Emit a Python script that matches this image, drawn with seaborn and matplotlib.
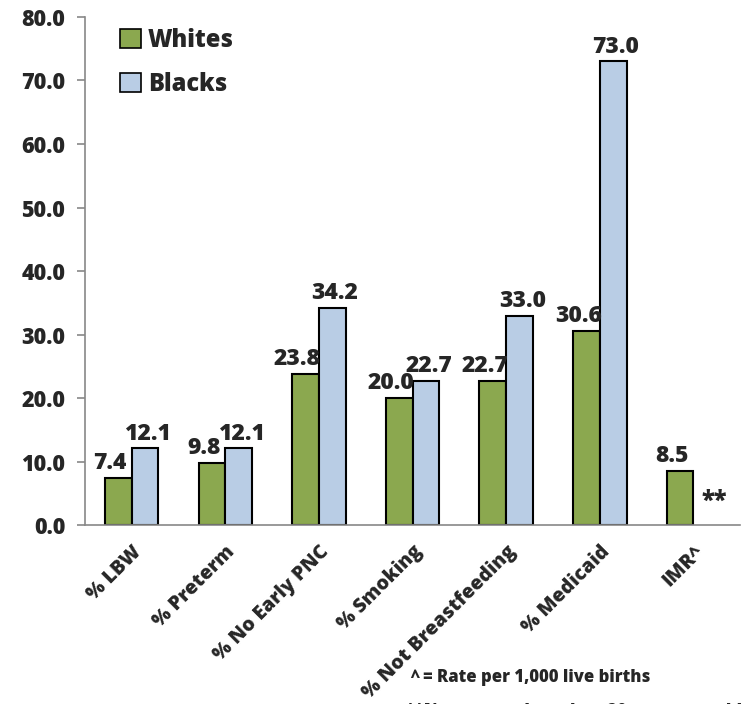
import pandas as pd
import numpy as np
import seaborn as sns
import matplotlib.pyplot as plt

categories = ['% LBW', '% Preterm', '% No Early PNC', '% Smoking',
              '% Not Breastfeeding', '% Medicaid', 'IMR^']
whites = [7.4, 9.8, 23.8, 20.0, 22.7, 30.6, 8.5]
blacks = [12.1, 12.1, 34.2, 22.7, 33.0, 73.0, np.nan]
groups = ['Whites', 'Blacks']
colors = ['#8BA84F', '#B9CDE5']

df = pd.DataFrame({'Category': categories * 2,
                   'Group': ['Whites'] * len(categories) + ['Blacks'] * len(categories),
                   'Value': whites + blacks})

sns.set_style('white')
plt.rcParams['font.family'] = ['Open Sans', 'DejaVu Sans']
plt.rcParams['font.weight'] = 'heavy'
W = 'heavy'

fig = plt.figure(figsize=(7.44, 7.04), dpi=100)
ax = fig.add_axes([0.114, 0.254, 0.881, 0.722])

sns.barplot(data=df, x='Category', y='Value', hue='Group', hue_order=groups,
            palette=colors, width=0.57, edgecolor='black', linewidth=1.5,
            saturation=1, ax=ax)

# value labels, whites nudged left a little as in the original
for cont, dx in zip(ax.containers, [-6, 2]):
    for bar in cont:
        h = bar.get_height()
        if np.isnan(h):
            continue
        ax.annotate(f'{h:.1f}', xy=(bar.get_x() + bar.get_width() / 2, h),
                    xytext=(dx, 2), textcoords='offset points', ha='center',
                    va='bottom', fontsize=16.5, fontweight=W)

# no rate for Blacks in IMR
ax.annotate('**', xy=(6, 8.5 * 0.45), xytext=(6, 0), textcoords='offset points',
            fontsize=17, fontweight=W, va='center', ha='left')

ax.set_ylim(0, 80)
ax.set_yticks(np.arange(0, 81, 10))
ax.set_yticklabels([f'{v:.1f}' for v in np.arange(0, 81, 10)], fontsize=15.5, fontweight=W)
ax.set_xlim(-0.5, len(categories) - 0.5)
ax.set_xticks(range(len(categories)))
ax.set_xticklabels(categories, rotation=45, ha='right', rotation_mode='anchor',
                   fontsize=14, fontweight=W)
ax.set_xticks(np.arange(-0.5, len(categories), 1), minor=True)
ax.tick_params(axis='x', which='major', length=0, pad=12)
ax.tick_params(axis='x', which='minor', length=7, color='#888888', width=1.2)
ax.tick_params(axis='y', length=6, color='#888888', width=1.2, left=True, pad=8)
ax.set_xlabel('')
ax.set_ylabel('')

for side in ['top', 'right']:
    ax.spines[side].set_visible(False)
for side in ['left', 'bottom']:
    ax.spines[side].set_color('#888888')
    ax.spines[side].set_linewidth(1.2)

leg = ax.legend(loc='upper left', bbox_to_anchor=(0.022, 1.02), frameon=False,
                prop={'size': 17, 'weight': W}, handlelength=0.85,
                handleheight=0.85, handletextpad=0.3, labelspacing=0.8)
for h in leg.legend_handles:
    h.set_edgecolor('black')
    h.set_linewidth(1.2)

fig.text(0.551, 0.037, '^ = Rate per 1,000 live births', fontsize=12,
         fontweight=W, ha='left', va='center')
fig.text(0.546, -0.01, '**Numerator less than 20, rate unstable', fontsize=12,
         fontweight=W, ha='left', va='center')

fig.savefig('out.png', dpi=100)
